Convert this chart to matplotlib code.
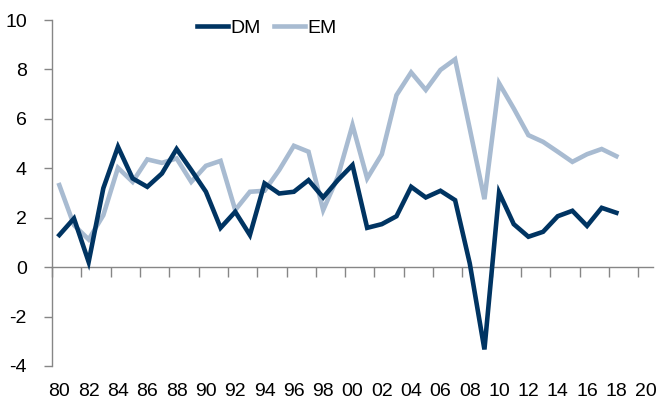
import matplotlib
matplotlib.use("Agg")
import matplotlib.pyplot as plt
import numpy as np

years = list(range(1980, 2019))
dm = [1.30, 1.97, 0.21, 3.19, 4.87, 3.59, 3.25, 3.79, 4.78, 3.93,
      3.05, 1.59, 2.24, 1.30, 3.39, 2.98, 3.05, 3.52, 2.82, 3.52,
      4.13, 1.59, 1.74, 2.06, 3.25, 2.82, 3.09, 2.71, 0.15, -3.33,
      3.02, 1.74, 1.23, 1.43, 2.06, 2.28, 1.67, 2.40, 2.20]
em = [3.32, 1.70, 1.12, 2.10, 4.02, 3.45, 4.36, 4.22, 4.40, 3.45,
      4.10, 4.30, 2.31, 3.05, 3.09, 3.93, 4.91, 4.67, 2.31, 3.66,
      5.75, 3.59, 4.57, 6.96, 7.88, 7.17, 7.98, 8.41, 5.60, 2.75,
      7.44, 6.42, 5.34, 5.07, 4.67, 4.26, 4.57, 4.78, 4.49]
label_years = list(range(1980, 2021, 2))
yticks = [-4, -2, 0, 2, 4, 6, 8, 10]

plt.rcParams['font.family'] = ['Liberation Sans', 'DejaVu Sans']
W, H = 660, 401
fig = plt.figure(figsize=(W / 100, H / 100), dpi=100)
ax = fig.add_axes([52 / W, 1 - 366 / H, (653 - 52) / W, (366 - 20) / H])

dm_c = '#003462'
em_c = '#A8BBD1'
axis_c = '#868686'

ax.plot(years, dm, color=dm_c, lw=3.3, solid_joinstyle='miter', label='DM', zorder=3)
ax.plot(years, em, color=em_c, lw=3.3, solid_joinstyle='miter', label='EM', zorder=2)

ax.set_xlim(1979.5, 2020.5)
ax.set_ylim(-4, 10)

for s in ['top', 'right', 'bottom']:
    ax.spines[s].set_visible(False)
ax.spines['left'].set_color(axis_c)
ax.spines['left'].set_linewidth(1.0)

ax.set_yticks(yticks)
ax.set_yticklabels([str(v) for v in yticks])
ax.tick_params(axis='y', direction='out', length=6, color=axis_c, width=1.0,
               labelsize=14, pad=12, labelcolor='black')

ax.set_xticks(label_years)
ax.set_xticklabels([f"{y % 100:02d}" for y in label_years])
ax.tick_params(axis='x', length=0, labelsize=14, pad=12, labelcolor='black')

sec = ax.secondary_xaxis(4 / 14)
sec.spines['bottom'].set_color(axis_c)
sec.spines['bottom'].set_linewidth(1.0)
sec.set_xticks([y - 0.5 for y in label_years])
sec.set_xticklabels([])
sec.tick_params(axis='x', direction='out', length=7, color=axis_c, width=1.0)

leg = fig.legend(loc='center', bbox_to_anchor=(267 / W, 1 - 28 / H), ncol=2,
                 frameon=False, fontsize=14, handlelength=1.6, handletextpad=0.1,
                 columnspacing=0.7)

fig.savefig('out.png', dpi=100)
